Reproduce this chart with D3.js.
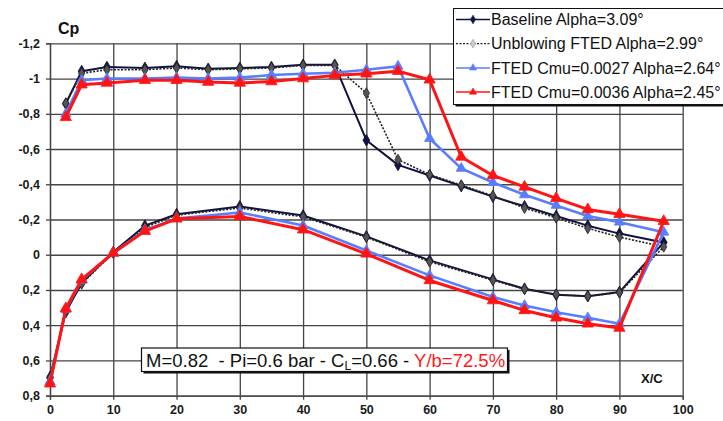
<!DOCTYPE html>
<html><head><meta charset="utf-8">
<script src="https://cdn.jsdelivr.net/npm/d3@7"></script>
<style>
body{margin:0;background:#fff;overflow:hidden;}
svg{display:block;font-family:Arial,"Liberation Sans",sans-serif;}
</style>
</head><body><svg id="c" width="723" height="421"></svg>
<script>
// ---- data ----
const xUpper = [2.5, 5, 9, 15, 20, 25, 30, 35, 40, 45, 50, 55, 60, 65, 70, 75, 80, 85, 90, 97];
const xLower = [90, 85, 80, 75, 70, 60, 50, 40, 30, 20, 15, 10, 5, 2.5, 0];

const baselineUpper  = [-0.857, -1.042, -1.065, -1.06, -1.07, -1.055, -1.06, -1.065, -1.078, -1.078, -0.65, -0.51, -0.45, -0.39, -0.33, -0.275, -0.22, -0.165, -0.12, -0.07];
const baselineLower  = [0.212, 0.235, 0.227, 0.193, 0.14, 0.032, -0.104, -0.223, -0.274, -0.23, -0.165, -0.015, 0.16, 0.325, 0.695];

const unblowUpper    = [-0.86, -1.03, -1.05, -1.05, -1.06, -1.05, -1.055, -1.06, -1.075, -1.075, -0.917, -0.54, -0.455, -0.395, -0.335, -0.265, -0.21, -0.15, -0.10, -0.045];
const unblowLower    = [0.215, 0.235, 0.225, 0.195, 0.145, 0.04, -0.10, -0.215, -0.265, -0.225, -0.155, -0.01, 0.165, 0.32, 0.70];

const cmu27Upper     = [-0.80, -0.99, -1.0, -1.0, -1.005, -1.0, -1.005, -1.02, -1.027, -1.033, -1.05, -1.07, -0.66, -0.49, -0.41, -0.34, -0.28, -0.22, -0.185, -0.128];
const cmu27Lower     = [0.392, 0.358, 0.326, 0.288, 0.24, 0.117, -0.024, -0.166, -0.24, -0.205, -0.14, -0.01, 0.145, 0.31, 0.72];

const cmu36Upper     = [-0.78, -0.965, -0.975, -0.99, -0.99, -0.98, -0.975, -0.983, -1.0, -1.018, -1.027, -1.042, -0.993, -0.555, -0.45, -0.385, -0.32, -0.257, -0.23, -0.19];
const cmu36Lower     = [0.416, 0.392, 0.358, 0.316, 0.26, 0.146, -0.005, -0.142, -0.217, -0.204, -0.134, -0.01, 0.14, 0.305, 0.732];

const seriesNames = ["Baseline Alpha=3.09°", "Unblowing FTED Alpha=2.99°", "FTED Cmu=0.0027 Alpha=2.64°", "FTED Cmu=0.0036 Alpha=2.45°"];

const xTicks = [0, 10, 20, 30, 40, 50, 60, 70, 80, 90, 100];
const xTickLabels = ["0", "10", "20", "30", "40", "50", "60", "70", "80", "90", "100"];
const yTicks = [-1.2, -1.0, -0.8, -0.6, -0.4, -0.2, 0, 0.2, 0.4, 0.6, 0.8];
const yTickLabels = ["-1,2", "-1", "-0,8", "-0,6", "-0,4", "-0,2", "0", "0,2", "0,4", "0,6", "0,8"];

// ---- chart ----
const svg = d3.select("#c");
const L = 50, R = 682.7, T = 43.3, B = 395.7;
const x = d3.scaleLinear().domain([0, 100]).range([L, R]);
const y = d3.scaleLinear().domain([-1.2, 0.8]).range([T, B]);

// grid
const gridColor = "#444";
const gx = svg.append("g").attr("transform", `translate(0,${B})`)
  .call(d3.axisBottom(x).tickValues(xTicks).tickSize(-(B - T)).tickFormat(""));
gx.select(".domain").remove();
gx.selectAll("line").attr("stroke", gridColor).attr("stroke-width", 1.3);
const gy = svg.append("g").attr("transform", `translate(${L},0)`)
  .call(d3.axisLeft(y).tickValues(yTicks).tickSize(-(R - L)).tickFormat(""));
gy.select(".domain").remove();
gy.selectAll("line").attr("stroke", gridColor).attr("stroke-width", 1.3);

// axes with labels
const ax = svg.append("g").attr("transform", `translate(0,${B})`)
  .call(d3.axisBottom(x).tickValues(xTicks).tickSize(4).tickPadding(5)
    .tickFormat((d, i) => xTickLabels[i]));
ax.select(".domain").attr("stroke", gridColor).attr("stroke-width", 1.3);
ax.selectAll("line").attr("stroke", gridColor).attr("stroke-width", 1.3);
ax.selectAll("text").attr("font-size", 12.5).attr("font-weight", "bold").attr("fill", "#1a1a1a")
  .attr("font-family", "Arial, 'Liberation Sans', sans-serif");

const ay = svg.append("g").attr("transform", `translate(${L},0)`)
  .call(d3.axisLeft(y).tickValues(yTicks).tickSize(4).tickPadding(6)
    .tickFormat((d, i) => yTickLabels[i]));
ay.select(".domain").attr("stroke", gridColor).attr("stroke-width", 1.3);
ay.selectAll("line").attr("stroke", gridColor).attr("stroke-width", 1.3);
ay.selectAll("text").attr("font-size", 12.5).attr("font-weight", "bold").attr("fill", "#1a1a1a")
  .attr("font-family", "Arial, 'Liberation Sans', sans-serif");

// axis titles
svg.append("text").attr("x", 58).attr("y", 34).attr("font-size", 16).attr("font-weight", "bold")
  .attr("fill", "#111").text("Cp");
svg.append("text").attr("x", 641).attr("y", 383).attr("font-size", 13).attr("font-weight", "bold")
  .attr("fill", "#111").text("X/C");

// series
const series = [
  { name: seriesNames[0], up: baselineUpper, lo: baselineLower, color: "#121240", width: 2, dash: null, sym: d3.symbolDiamond, size: 40, fill: "#121240", mstroke: "#121240" },
  { name: seriesNames[1], up: unblowUpper, lo: unblowLower, color: "#222", width: 1.6, dash: "2,1.5", sym: d3.symbolDiamond, size: 34, fill: "#555", mstroke: "#222" },
  { name: seriesNames[2], up: cmu27Upper, lo: cmu27Lower, color: "#5a7cff", width: 2.6, dash: null, sym: d3.symbolTriangle, size: 45, fill: "#5a7cff", mstroke: "#5a7cff" },
  { name: seriesNames[3], up: cmu36Upper, lo: cmu36Lower, color: "#ff1414", width: 3, dash: null, sym: d3.symbolTriangle, size: 55, fill: "#ff1414", mstroke: "#ff1414" }
];
const xs = xUpper.concat(xLower);
const line = d3.line().x(d => x(d[0])).y(d => y(d[1]));

series.forEach(s => {
  const pts = xs.map((xv, i) => [xv, s.up.concat(s.lo)[i]]);
  svg.append("path").datum(pts).attr("d", line).attr("fill", "none")
    .attr("stroke", s.color).attr("stroke-width", s.width)
    .attr("stroke-linejoin", "round")
    .attr("stroke-dasharray", s.dash);
  svg.append("g").selectAll("path").data(pts).join("path")
    .attr("transform", d => `translate(${x(d[0])},${y(d[1])})`)
    .attr("d", d3.symbol().type(s.sym).size(s.size))
    .attr("fill", s.fill).attr("stroke", s.mstroke).attr("stroke-width", 0.8);
});

// legend
const lg = svg.append("g");
lg.append("rect").attr("x", 455.5).attr("y", 10.5).attr("width", 290).attr("height", 96).attr("fill", "#111");
lg.append("rect").attr("x", 453.5).attr("y", 8.5).attr("width", 290).attr("height", 96)
  .attr("fill", "#fff").attr("stroke", "#111").attr("stroke-width", 1);
const legendMarkerFill = ["#121240", "#ccc", "#5a7cff", "#ff1414"];
series.forEach((s, i) => {
  const cy = 19.5 + i * 24.2;
  lg.append("line").attr("x1", 456).attr("x2", 490).attr("y1", cy).attr("y2", cy)
    .attr("stroke", s.color).attr("stroke-width", i === 1 ? 1.2 : 1.5)
    .attr("stroke-dasharray", s.dash);
  lg.append("path").attr("transform", `translate(473,${cy})`)
    .attr("d", d3.symbol().type(s.sym).size(22))
    .attr("fill", legendMarkerFill[i]).attr("stroke", i === 1 ? "#999" : s.color).attr("stroke-width", 0.6);
  lg.append("text").attr("x", 491).attr("y", cy + 5.6).attr("font-size", 16)
    .attr("fill", "#111").text(s.name);
});

// annotation box
const an = svg.append("g");
an.append("rect").attr("x", 143.5).attr("y", 350).attr("width", 366).attr("height", 23.5).attr("fill", "#111");
an.append("rect").attr("x", 141.5).attr("y", 348).attr("width", 366).attr("height", 23.5)
  .attr("fill", "#fff").attr("stroke", "#111").attr("stroke-width", 1.2);
const at = an.append("text").attr("x", 146).attr("y", 366.5).attr("font-size", 18.5)
  .attr("fill", "#111").style("white-space", "pre");
at.append("tspan").text("M=0.82  - Pi=0.6 bar - C");
at.append("tspan").attr("font-size", 12).attr("dy", 3).text("L");
at.append("tspan").attr("dy", -3).text("=0.66 - ");
at.append("tspan").attr("fill", "#ff1a1a").text("Y/b=72.5%");
</script>
</body></html>
